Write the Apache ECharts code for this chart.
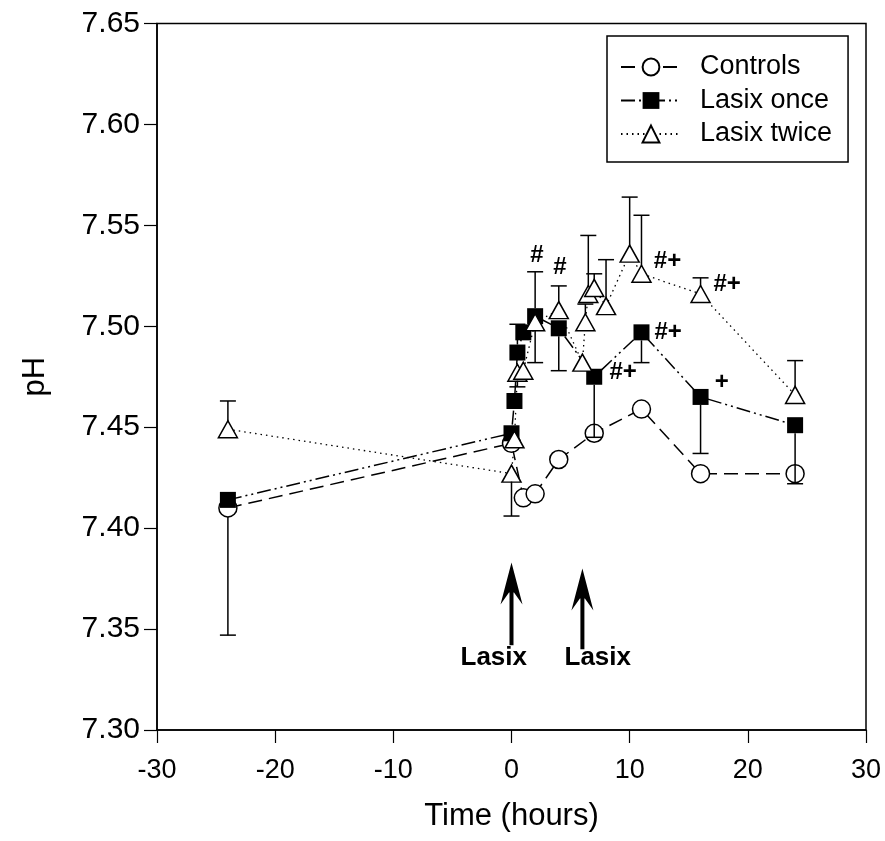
<!DOCTYPE html>
<html>
<head>
<meta charset="utf-8">
<script src="https://cdn.jsdelivr.net/npm/echarts@6/dist/echarts.min.js"></script>
<style>
html,body{margin:0;padding:0;background:#fff;}
#chart{width:885px;height:841px;}
</style>
</head>
<body>
<div id="chart"></div>
<script>
// ---- data ----
const timesControls = [-24, 0, 1, 2, 4, 7, 11, 16, 24];
const phControls    = [7.410, 7.442, 7.415, 7.417, 7.434, 7.447, 7.459, 7.427, 7.427];
const errControls   = [7.347, null, null, null, null, null, null, null, null];

const timesOnce = [-24, 0, 0.25, 0.5, 1, 2, 4, 7, 11, 16, 24];
const phOnce    = [7.414, 7.447, 7.463, 7.487, 7.497, 7.505, 7.499, 7.475, 7.497, 7.465, 7.451];
const errOnce   = [null, null, null, 7.501, null, 7.527, 7.478, 7.445, 7.482, 7.437, 7.422];

const timesTwice = [-24, 0, 0.25, 0.5, 1, 2, 4, 6, 6.25, 6.5, 7, 8, 10, 11, 16, 24];
const phTwice    = [7.449, 7.427, 7.444, 7.477, 7.478, 7.502, 7.508, 7.482, 7.502, 7.516, 7.519, 7.510, 7.536, 7.526, 7.516, 7.466];
const errTwice   = [7.463, 7.406, null, 7.470, null, 7.482, 7.520, null, 7.511, 7.545, 7.526, 7.533, 7.564, 7.555, 7.524, 7.483];

const xTicks = [-30, -20, -10, 0, 10, 20, 30];
const yTicks = [7.30, 7.35, 7.40, 7.45, 7.50, 7.55, 7.60, 7.65];

const annotations = [
  [2.15, 7.535, '#'],
  [4.1, 7.529, '#'],
  [9.45, 7.477, '#+'],
  [13.25, 7.497, '#+'],
  [13.2, 7.532, '#+'],
  [18.25, 7.521, '#+'],
  [17.8, 7.472, '+']
];
const doseTimes = [0, 6];
const doseArrowBottom = [7.342, 7.340];
const doseArrowTip = [7.383, 7.380];
const doseLabels = [[-1.5, 7.3357, 'Lasix'], [7.3, 7.3357, 'Lasix']];

// ---- build ----
const FONT = '"Liberation Sans", Arial, Helvetica, sans-serif';
function pts(t, v) { return t.map((x, i) => [x, v[i]]); }
function errPts(t, v, e, off) {
  const out = [];
  t.forEach((x, i) => { if (e[i] != null) out.push([x, v[i], e[i], off]); });
  return out;
}
const errData = []
  .concat(errPts(timesControls, phControls, errControls, 9))
  .concat(errPts(timesOnce, phOnce, errOnce, 8))
  .concat(errPts(timesTwice, phTwice, errTwice, 8));

const chart = echarts.init(document.getElementById('chart'));
const option = {
  animation: false,
  backgroundColor: '#fff',
  grid: { left: 157, right: 19, top: 23.5, bottom: 111, show: true, borderColor: '#000', borderWidth: 1.5, backgroundColor: 'transparent' },
  legend: {
    data: ['Controls', 'Lasix once', 'Lasix twice'],
    orient: 'vertical', left: 607, top: 36,
    padding: [17, 16, 14, 13],
    borderColor: '#000', borderWidth: 1.5,
    itemWidth: 60, itemHeight: 21, itemGap: 5.5,
    textStyle: { fontFamily: FONT, fontSize: 27, color: '#000', lineHeight: 28, padding: [0, 0, 0, 14] }
  },
  xAxis: {
    type: 'value', min: xTicks[0], max: xTicks[xTicks.length - 1], interval: 10,
    name: 'Time (hours)', nameLocation: 'middle', nameGap: 71,
    nameTextStyle: { fontFamily: FONT, fontSize: 31, color: '#000' },
    axisLine: { onZero: false, lineStyle: { color: '#000', width: 1.5 } },
    axisTick: { length: 13, lineStyle: { color: '#000', width: 1.2 } },
    axisLabel: { fontFamily: FONT, fontSize: 27, color: '#000', margin: 27 },
    splitLine: { show: false }
  },
  yAxis: {
    type: 'value', min: yTicks[0], max: yTicks[yTicks.length - 1], interval: 0.05,
    name: 'pH', nameLocation: 'middle', nameGap: 106, nameRotate: 90,
    nameTextStyle: { fontFamily: FONT, fontSize: 31, color: '#000' },
    axisLine: { onZero: false, lineStyle: { color: '#000', width: 1.5 } },
    axisTick: { length: 13, lineStyle: { color: '#000', width: 1.2 } },
    axisLabel: { fontFamily: FONT, fontSize: 30, color: '#000', margin: 17, formatter: v => v.toFixed(2) },
    splitLine: { show: false }
  },
  series: [
    {
      name: 'Controls', type: 'line', data: pts(timesControls, phControls), z: 3,
      symbol: 'circle', symbolSize: 18,
      lineStyle: { color: '#000', width: 1.5, type: [14, 7] },
      itemStyle: { color: '#fff', borderColor: '#000', borderWidth: 1.5 }
    },
    {
      name: 'Lasix once', type: 'line', data: pts(timesOnce, phOnce), z: 4,
      symbol: 'rect', symbolSize: 16,
      lineStyle: { color: '#000', width: 1.5, type: [14, 4, 2, 4, 2, 4] },
      itemStyle: { color: '#000', borderColor: '#000', borderWidth: 0 }
    },
    {
      name: 'Lasix twice', type: 'line', data: pts(timesTwice, phTwice), z: 5,
      symbol: 'triangle', symbolSize: [19, 17],
      lineStyle: { color: '#000', width: 1.3, type: [1.5, 4] },
      itemStyle: { color: '#fff', borderColor: '#000', borderWidth: 1.5 }
    },
    {
      name: 'errorbars', type: 'custom', z: 10, data: errData,
      renderItem: function (params, api) {
        const x = api.value(0), m = api.value(1), e = api.value(2), off = api.value(3);
        const p0 = api.coord([x, m]), p1 = api.coord([x, e]);
        const dir = p1[1] > p0[1] ? 1 : -1;
        const ys = p0[1] + dir * off;
        const st = { stroke: '#000', lineWidth: 1.5 };
        return { type: 'group', children: [
          { type: 'line', shape: { x1: p0[0], y1: ys, x2: p1[0], y2: p1[1] }, style: st },
          { type: 'line', shape: { x1: p1[0] - 8, y1: p1[1], x2: p1[0] + 8, y2: p1[1] }, style: st }
        ] };
      }
    },
    {
      name: 'arrows', type: 'custom', z: 10,
      data: doseTimes.map((t, i) => [t, doseArrowBottom[i], doseArrowTip[i]]),
      renderItem: function (params, api) {
        const b = api.coord([api.value(0), api.value(1)]);
        const t = api.coord([api.value(0), api.value(2)]);
        const x = t[0], y = t[1];
        return { type: 'group', children: [
          { type: 'rect', shape: { x: x - 2, y: y + 28, width: 4, height: b[1] - y - 28 }, style: { fill: '#000' } },
          { type: 'polygon', shape: { points: [[x, y], [x + 11, y + 42], [x + 2.5, y + 30], [x - 2.5, y + 30], [x - 11, y + 42]] }, style: { fill: '#000' } }
        ] };
      }
    },
    {
      name: 'annotations', type: 'scatter', z: 11, symbolSize: 0, silent: true,
      itemStyle: { opacity: 1 },
      data: annotations,
      label: { show: true, position: 'inside', formatter: p => p.value[2], fontFamily: FONT, fontSize: 24, fontWeight: 'bold', color: '#000', opacity: 1 }
    },
    {
      name: 'doseLabels', type: 'scatter', z: 11, symbolSize: 0, silent: true,
      itemStyle: { opacity: 1 },
      data: doseLabels,
      label: { show: true, position: 'inside', formatter: p => p.value[2], fontFamily: FONT, fontSize: 26, fontWeight: 'bold', color: '#000', opacity: 1 }
    }
  ]
};
chart.setOption(option);
</script>
</body>
</html>
